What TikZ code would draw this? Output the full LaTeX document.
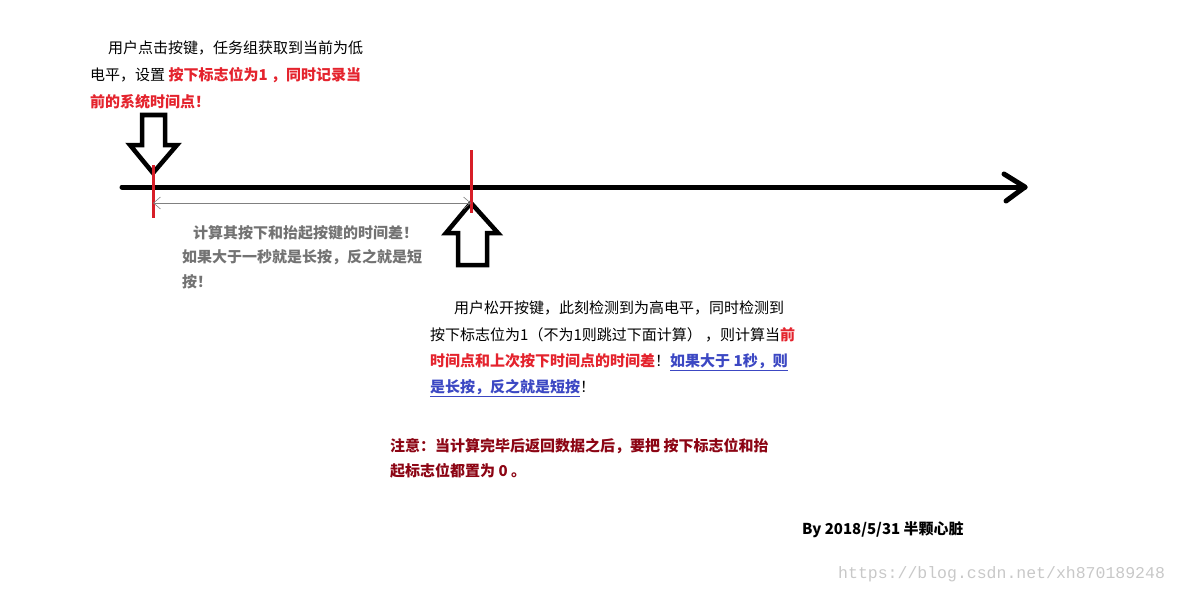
\documentclass[tikz,border=0pt]{standalone}
\usepackage{fontspec}
\setmainfont{Noto Sans CJK SC}
\newfontfamily\markfont{Liberation Mono}
\usetikzlibrary{arrows.meta, positioning, calc}

\definecolor{keyred}{RGB}{228,35,45}
\definecolor{markred}{RGB}{215,30,40}
\definecolor{notegray}{RGB}{115,115,115}
\definecolor{linkblue}{RGB}{60,72,195}
\definecolor{warnred}{RGB}{140,5,20}
\definecolor{wmgray}{RGB}{200,200,200}

\begin{document}
\begin{tikzpicture}[x=1pt, y=-1pt]
    % --- Style Definitions ---
    \tikzset{
        axis style/.style={
            draw=black,
            line width=5pt,
            line cap=round,
            line join=round
        },
        block arrow/.style={
            draw=black,
            line width=4.5pt,
            line join=miter
        },
        mark line/.style={
            draw=markred,
            line width=3pt
        },
        span arrow/.style={
            {Straight Barb[length=7pt,width=12pt]}-{Straight Barb[length=7pt,width=12pt]},
            draw=gray,
            line width=0.6pt
        },
        body text/.style={
            anchor=north west,
            inner sep=0pt,
            align=left,
            font=\fontsize{15}{26}\selectfont
        }
    }

    % Axis height and the two key instants
    \def\axisy{187}
    \def\pressx{153}
    \def\releasex{471}

    \useasboundingbox (0,0) rectangle (1179,594);

    % --- 1. Time axis with open arrow head ---
    \coordinate (axisstart) at (122,\axisy);
    \coordinate (axisend) at (1025,\axisy);
    \draw[axis style] (axisstart) -- (axisend);
    \draw[axis style] (1004,174) -- (axisend) -- (1006,201);

    % --- 2. Press / release block arrows ---
    \draw[block arrow] (142,115) -- (165,115) -- (165,145) -- (177,145)
        -- (\pressx,173) -- (130,145) -- (142,145) -- cycle;
    \draw[block arrow] (458,265) -- (487,265) -- (487,233) -- (498,233)
        -- (\releasex,203) -- (446,233) -- (458,233) -- cycle;

    % --- 3. Red marks and time span ---
    \coordinate (press) at (\pressx,203);
    \coordinate (release) at (\releasex,203);
    \draw[mark line] (\pressx,165) -- (\pressx,218);
    \draw[mark line] (\releasex,150) -- (\releasex,213);
    \draw[span arrow] (press) -- (release);

    % --- 4. Texts ---
    \node[body text, font=\fontsize{15}{27}\selectfont] (presstext) at (90,41) {%
        \hspace*{18pt}用户点击按键，任务组获取到当前为低\\
        电平，设置 \textcolor{keyred}{\bfseries 按下标志位为1 ，同时记录当}\\
        \textcolor{keyred}{\bfseries 前的系统时间点！}};

    \node[body text, text=notegray, font=\fontsize{15}{24.5}\selectfont\bfseries]
        (spantext) at (182,225) {%
        \hspace*{11pt}计算其按下和抬起按键的时间差！\\
        如果大于一秒就是长按，反之就是短\\
        按！};

    \node[body text, font=\fontsize{15}{26.3}\selectfont] (releasetext) at (430,301) {%
        \hspace*{24pt}用户松开按键，此刻检测到为高电平，同时检测到\\
        按下标志位为1（不为1则跳过下面计算）  ，则计算当\textcolor{keyred}{\bfseries 前}\\
        \textcolor{keyred}{\bfseries 时间点和上次按下时间点的时间差}！\textcolor{linkblue}{\bfseries\underline{如果大于 1秒，则}}\\
        \textcolor{linkblue}{\bfseries\underline{是长按，反之就是短按}}！};

    \node[body text, text=warnred, font=\fontsize{15}{25}\selectfont\bfseries]
        (notetext) at (390,438) {%
        注意：当计算完毕后返回数据之后，要把 按下标志位和抬\\
        起标志位都置为 0 。};

    \node[body text, font=\fontsize{15}{26}\selectfont\bfseries] (bytext) at (802,521)
        {By 2018/5/31 半颗心脏};

    \node[anchor=west, inner sep=0pt, text=wmgray, font=\markfont\fontsize{16.5}{18}\selectfont]
        (watermark) at (838,574) {https://blog.csdn.net/xh870189248};
\end{tikzpicture}
\end{document}
